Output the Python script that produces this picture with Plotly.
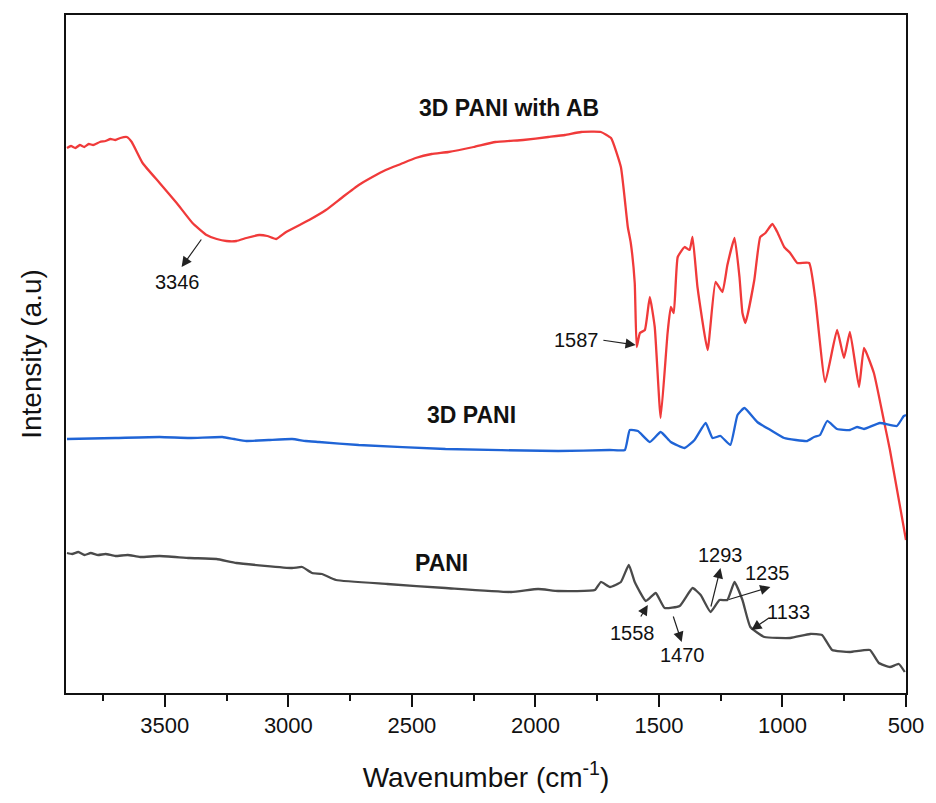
import plotly.graph_objects as go

# ---- data (wavenumber in cm^-1, intensity in arbitrary units) ----
red_w = [3896, 3880, 3862, 3844, 3826, 3808, 3790, 3763, 3740, 3720, 3700, 3680, 3654, 3634, 3590, 3521,
         3452, 3388, 3331, 3290, 3251, 3210, 3170, 3118, 3085, 3049, 3009, 2916, 2848, 2780, 2715, 2660,
         2606, 2545, 2485, 2420, 2352, 2250, 2162, 2050, 1948, 1880, 1815, 1735, 1694, 1654, 1638, 1626,
         1614, 1598, 1590, 1577, 1557, 1537, 1517, 1493, 1465, 1452, 1440, 1424, 1396, 1376, 1364, 1344,
         1303, 1271, 1243, 1223, 1194, 1174, 1162, 1150, 1114, 1090, 1069, 1041, 1021, 993, 969, 940,
         892, 868, 827, 779, 751, 727, 690, 670, 630, 590, 565, 500]
red_v = [545, 547, 545, 548, 546, 549, 548, 551, 552, 554, 553, 555, 556, 551, 530, 510,
         490, 470, 458, 454, 452, 452, 455, 458, 457, 454, 461, 473, 483, 496, 508, 516,
         523, 529, 535, 539, 541, 546, 551, 553, 556, 558, 561, 561, 555, 526, 493, 466,
         450, 410, 346, 360, 363, 396, 366, 275, 360, 386, 380, 436, 446, 443, 456, 406,
         343, 411, 401, 428, 455, 416, 380, 370, 413, 456, 460, 469, 461, 446, 440, 430,
         430, 396, 311, 363, 335, 361, 306, 345, 320, 273, 243, 153]

blue_w = [3896, 3700, 3521, 3400, 3267, 3220, 3170, 3080, 2985, 2930, 2876, 2715, 2364, 1908, 1700, 1638,
          1618, 1585, 1537, 1493, 1452, 1396, 1356, 1311, 1283, 1251, 1211, 1182, 1154, 1102, 1049, 993,
          900, 872, 848, 819, 779, 727, 698, 670, 606, 537, 509, 500]
blue_v = [254, 255, 256, 255, 256, 254, 252, 253, 254, 252, 251, 248, 244, 242, 243, 243,
          263, 262, 251, 261, 251, 245, 253, 270, 255, 257, 248, 278, 285, 271, 263, 255,
          252, 256, 258, 272, 264, 263, 266, 264, 270, 267, 277, 278]

gray_w = [3896, 3875, 3850, 3825, 3800, 3770, 3740, 3700, 3650, 3600, 3521, 3400, 3291, 3210, 2985, 2944,
          2904, 2864, 2807, 2600, 2364, 2098, 1989, 1908, 1759, 1735, 1698, 1654, 1622, 1598, 1553, 1513,
          1477, 1416, 1364, 1331, 1291, 1255, 1223, 1194, 1162, 1130, 1073, 969, 888, 840, 799, 727,
          646, 610, 565, 529, 505]
gray_v = [140, 139, 141, 138, 140, 138, 139, 137, 138, 136, 137, 135, 134, 130, 125, 126,
          120, 119, 113, 109, 105, 101, 104, 102, 103, 111, 106, 111, 128, 111, 92, 100,
          85, 87, 105, 98, 81, 93, 93, 111, 93, 66, 56, 55, 59, 58, 43, 41,
          43, 30, 26, 29, 21]

series_names = ["3D PANI with AB", "3D PANI", "PANI"]
series_colors = ["#F03A3A", "#1F64D6", "#4A4A4A"]
label_pos = [(2106, 585), (2259, 278), (2380, 130)]

x_ticks = [3500, 3000, 2500, 2000, 1500, 1000, 500]
x_minor = [3750, 3250, 2750, 2250, 1750, 1250, 750]

# peak annotations: text, label (w, v), arrow tail (w, v), arrow head (w, v), anchor
peaks = [
    ("3346", (3448, 411), (3348, 455), (3432, 426), "center"),
    ("1587", (1735, 353), (1731, 353), (1594, 348), "right"),
    ("1558", (1606, 60), (1577, 75), (1545, 88), "center"),
    ("1470", (1404, 38), (1444, 78), (1408, 51), "center"),
    ("1293", (1251, 138), (1291, 85), (1251, 125), "center"),
    ("1235", (1061, 120), (1223, 93), (1049, 106), "center"),
    ("1133", (975, 81), (1049, 76), (1126, 63), "center"),
]

FONT = "Arial, Liberation Sans, sans-serif"

fig = go.Figure()
for w, v, c, nm in [(red_w, red_v, series_colors[0], series_names[0]),
                    (blue_w, blue_v, series_colors[1], series_names[1]),
                    (gray_w, gray_v, series_colors[2], series_names[2])]:
    fig.add_trace(go.Scatter(x=w, y=v, mode="lines", name=nm,
                             line=dict(color=c, width=2.3, shape="spline", smoothing=0.4),
                             showlegend=False))

for nm, (lx, ly) in zip(series_names, label_pos):
    fig.add_annotation(x=lx, y=ly, text="<b>%s</b>" % nm, showarrow=False,
                       font=dict(family=FONT, size=23, color="#111"))

for txt, (lx, ly), (tx, ty), (hx, hy), anc in peaks:
    fig.add_annotation(x=lx, y=ly, text=txt, showarrow=False, xanchor=anc,
                       font=dict(family=FONT, size=20, color="#111"))
    fig.add_annotation(x=hx, y=hy, ax=tx, ay=ty, axref="x", ayref="y", text="",
                       showarrow=True, arrowhead=2, arrowsize=1.7, arrowwidth=1.2,
                       arrowcolor="#222", standoff=0, startstandoff=0)

fig.update_layout(
    width=936, height=803,
    margin=dict(l=66, r=27, t=15, b=110),
    paper_bgcolor="white", plot_bgcolor="white",
    font=dict(family=FONT, color="#111"),
    xaxis=dict(range=[3900, 500], tickvals=x_ticks, ticks="outside", ticklen=12,
               tickwidth=2, tickcolor="#111", showline=True, linewidth=2, linecolor="#111",
               mirror=True, showgrid=False, zeroline=False,
               tickfont=dict(family=FONT, size=22, color="#111"),
               minor=dict(tickvals=x_minor, ticks="outside",
                          ticklen=6, tickwidth=2, tickcolor="#111", showgrid=False),
               title=dict(text="Wavenumber (cm<sup>-1</sup>)", standoff=30,
                          font=dict(family=FONT, size=28, color="#111"))),
    yaxis=dict(range=[0, 678], showticklabels=False, ticks="", showline=True, linewidth=2,
               linecolor="#111", mirror=True, showgrid=False, zeroline=False,
               title=dict(text="Intensity (a.u)", standoff=14,
                          font=dict(family=FONT, size=28, color="#111"))),
)

fig.write_html("out.html")
